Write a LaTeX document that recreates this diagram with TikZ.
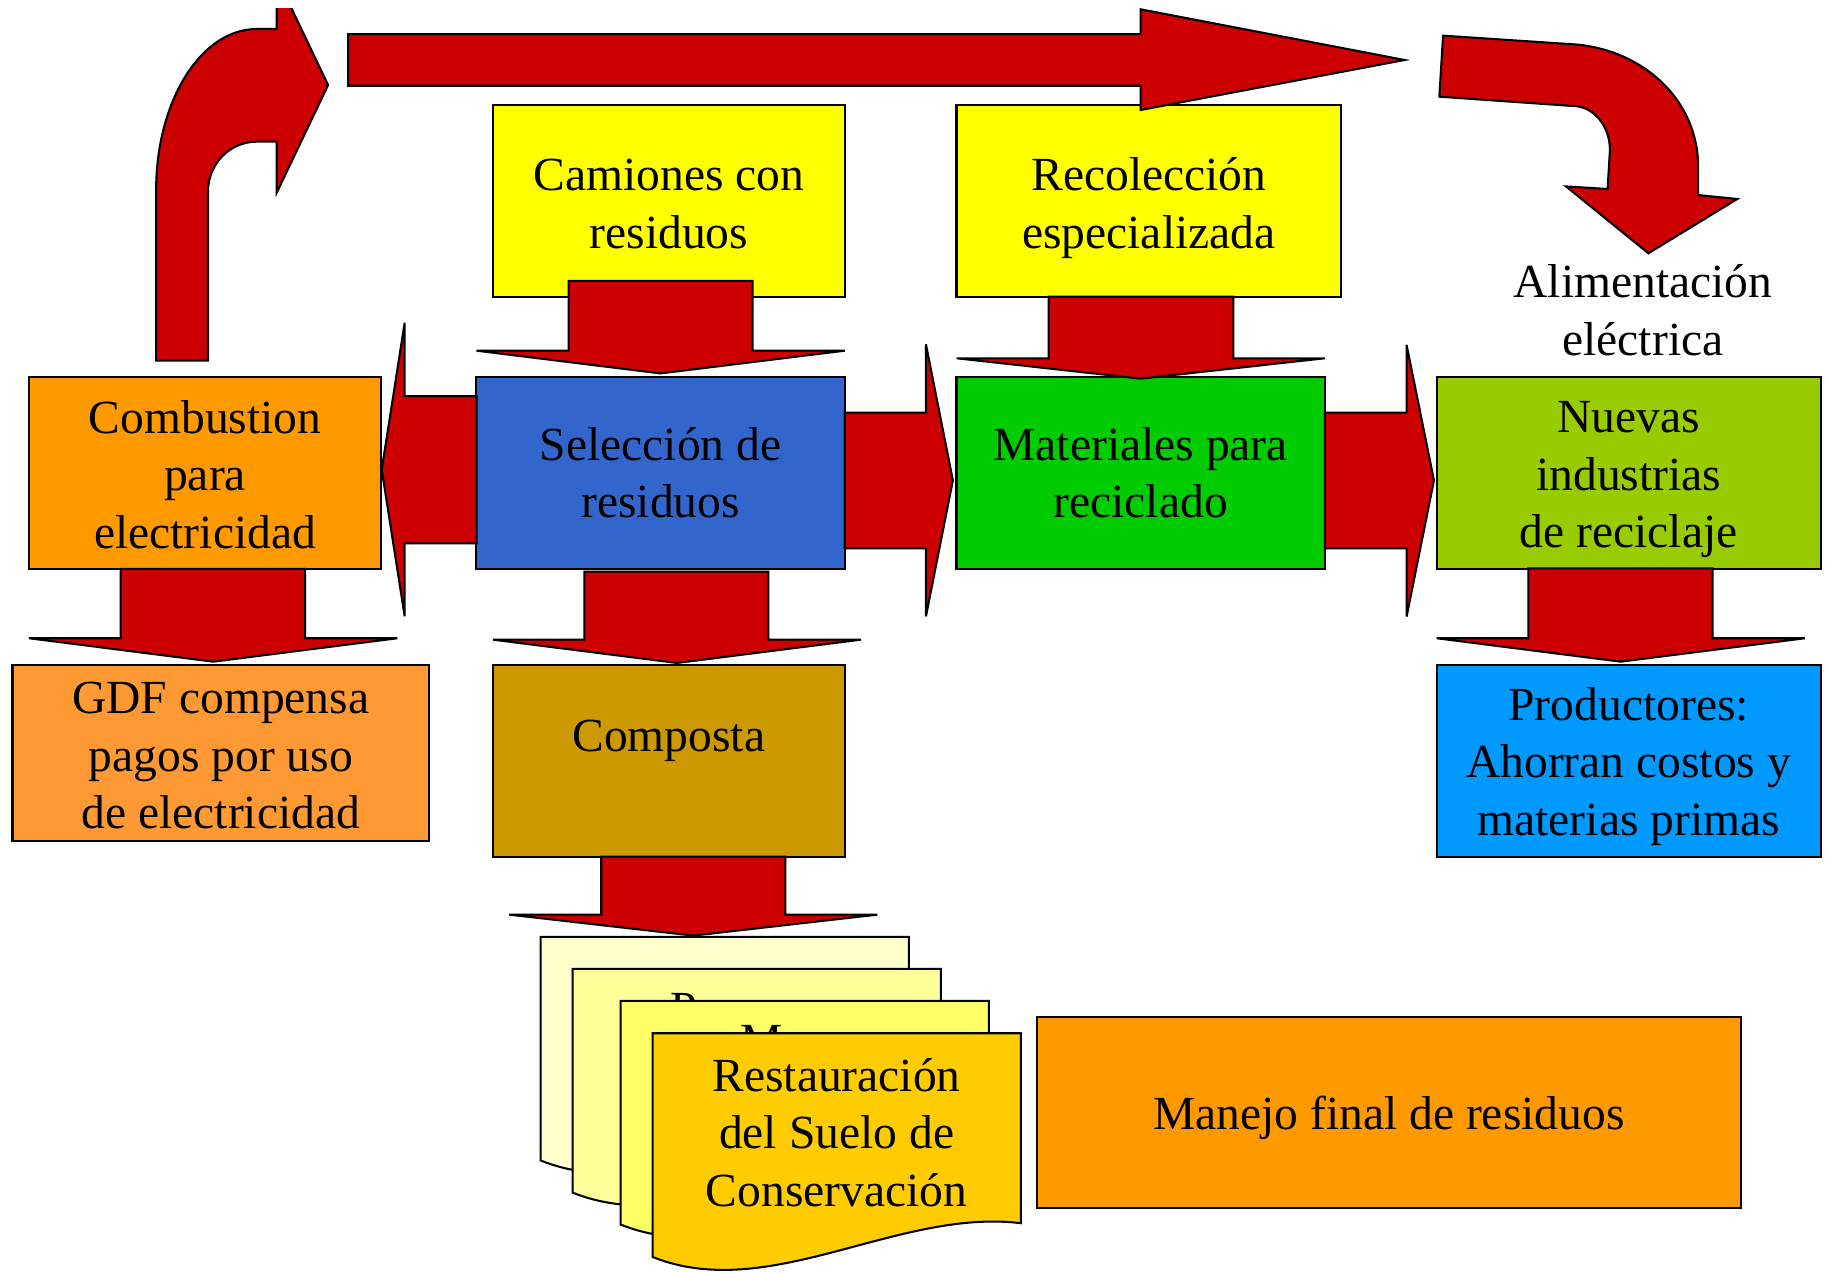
\documentclass[tikz,border=0pt]{standalone}
\usepackage{fontspec}
\setmainfont{Liberation Serif}
\usepackage{tikz}
\definecolor{flowRed}{HTML}{CC0000}
\definecolor{flowYellow}{HTML}{FFFF00}
\definecolor{flowOrange}{HTML}{FF9900}
\definecolor{flowBlue}{HTML}{3366CC}
\definecolor{flowGreen}{HTML}{00CC00}
\definecolor{flowLime}{HTML}{99CC00}
\definecolor{flowPeach}{HTML}{FF9933}
\definecolor{flowGold}{HTML}{CC9900}
\definecolor{flowSky}{HTML}{0099FF}
\definecolor{pageYellow1}{HTML}{FFFFCC}
\definecolor{pageYellow2}{HTML}{FFFF99}
\definecolor{pageYellow3}{HTML}{FFFF66}
\definecolor{pageYellow4}{HTML}{FFCC00}
% lifts the first text line of a box
\newcommand{\lift}[1]{\rule{0pt}{#1}}

\begin{document}
\begin{tikzpicture}[x=0.01cm, y=-0.01cm,
    flowbox/.style={draw=black, line width=0.5pt, align=center, inner sep=0pt,
      font=\fontsize{11.6pt}{14.1pt}\selectfont},
    plaintext/.style={align=center, inner sep=0pt, font=\fontsize{11.6pt}{14.1pt}\selectfont},
    blockarrow/.style={fill=flowRed, draw=black, line width=0.5pt},
    docpage/.style={draw=black, line width=0.5pt}]

    \useasboundingbox (0,0) rectangle (1568,1092);

    % Top row
    \node[flowbox, fill=flowYellow, minimum width=3.02cm, minimum height=1.646cm] (camiones) at (574,172.3) {\lift{9.1pt}Camiones con\\residuos};
    \node[flowbox, fill=flowYellow, minimum width=3.30cm, minimum height=1.646cm] (recoleccion) at (986,172.3) {\lift{11.8pt}Recolección\\especializada};
    \node[plaintext] (alimentacion) at (1410,266) {Alimentación\\eléctrica};

    % Middle row
    \node[flowbox, fill=flowOrange, minimum width=3.02cm, minimum height=1.645cm] (combustion) at (176,405.8) {\lift{8.9pt}Combustion\\para\\electricidad};
    \node[flowbox, fill=flowBlue, minimum width=3.16cm, minimum height=1.645cm] (seleccion) at (567,405.8) {Selección de\\residuos};
    \node[flowbox, fill=flowGreen, minimum width=3.16cm, minimum height=1.645cm] (materiales) at (979,405.8) {Materiales para\\reciclado};
    \node[flowbox, fill=flowLime, minimum width=3.295cm, minimum height=1.645cm] (nuevas) at (1397.8,405.8) {\lift{10.9pt}Nuevas\\industrias\\de reciclaje};

    % Lower row
    \node[flowbox, fill=flowPeach, minimum width=3.573cm, minimum height=1.508cm] (gdf) at (189.5,646.1) {\lift{9pt}GDF compensa\\pagos por uso\\de electricidad};
    \node[flowbox, fill=flowGold, minimum width=3.02cm, minimum height=1.645cm] (composta) at (574,653) {\lift{9.4pt}Composta\\\mbox{}};
    \node[flowbox, fill=flowSky, minimum width=3.295cm, minimum height=1.645cm] (productores) at (1397.8,653) {\lift{10.8pt}Productores:\\Ahorran costos y\\materias primas};
    \node[flowbox, fill=flowOrange, minimum width=6.04cm, minimum height=1.64cm] (manejo) at (1192,955) {\lift{10.8pt}Manejo final de residuos};

    % Stack of pages
    \filldraw[docpage, fill=pageYellow1, shift={(464,804)}] (0,0) -- (316,0) -- (316,163) .. controls (210,150) and (100,232) .. (0,192) -- cycle;
    \filldraw[docpage, fill=pageYellow2, shift={(491.5,831.6)}] (0,0) -- (316,0) -- (316,163) .. controls (210,150) and (100,232) .. (0,192) -- cycle;
    \node[plaintext, anchor=base] (hiddenP) at (586.5,879.7) {P};
    \filldraw[docpage, fill=pageYellow3, shift={(532.7,859)}] (0,0) -- (316,0) -- (316,163) .. controls (210,150) and (100,232) .. (0,192) -- cycle;
    \node[plaintext, anchor=base] (hiddenM) at (654,906.7) {M};
    \filldraw[docpage, fill=pageYellow4, shift={(560.1,886.8)}] (0,0) -- (316,0) -- (316,163) .. controls (210,150) and (100,232) .. (0,192) -- cycle;
    \node[plaintext] (restauracion) at (718,972) {Restauración\\del Suelo de\\Conservación};

    % Bent arrow up from combustion (cut at the top edge)
    \begin{scope}
      \clip (0,7.7) rectangle (1568,1092);
      \filldraw[blockarrow] (134,309.5) -- (134,163) .. controls (134,86.8) and (172.5,24.9) .. (220.3,24.9) -- (237.5,24.9) -- (237.5,-19.4) -- (281.6,73) -- (237.5,165.4) -- (237.5,121.6) -- (220.3,121.6) .. controls (197.1,121.6) and (178.5,140.8) .. (178.5,164.5) -- (178.5,309.5) -- cycle;
    \end{scope}

    % Long arrow along the top
    \filldraw[blockarrow] (298.8,29.3) -- (979,29.3) -- (979,8) -- (1205.5,51.5) -- (979,94.4) -- (979,73.6) -- (298.8,73.6) -- cycle;

    % Curved arrow down to the right
    \filldraw[blockarrow] (1238.5,30.6) -- (1350,38) .. controls (1409,42) and (1457.4,85) .. (1457.4,143) -- (1457.4,167.4) -- (1491,170.8) -- (1414.7,217.4) -- (1344,160) -- (1379.7,162.2) -- (1381.7,128.7) .. controls (1381.7,107.9) and (1367.5,91) .. (1350,91) -- (1235.3,83) -- cycle;

    % Down arrows
    \filldraw[blockarrow] (488,241) -- (488,301) -- (409,301) -- (567,320.5) -- (725,301) -- (646,301) -- (646,241) -- cycle;
    \filldraw[blockarrow] (900,254.6) -- (900,307.5) -- (821,307.5) -- (979,325) -- (1137,307.5) -- (1058.6,307.5) -- (1058.6,254.6) -- cycle;
    \filldraw[blockarrow] (103.6,488.3) -- (103.6,547.8) -- (24.9,547.8) -- (183.1,567.9) -- (341,547.8) -- (261.8,547.8) -- (261.8,488.3) -- cycle;
    \filldraw[blockarrow] (501.6,490.6) -- (501.6,549) -- (423,549) -- (581,569) -- (739,549) -- (659.4,549) -- (659.4,490.6) -- cycle;
    \filldraw[blockarrow] (1311.7,487.8) -- (1311.7,547.8) -- (1233,547.8) -- (1391,567.9) -- (1549,547.8) -- (1469.8,547.8) -- (1469.8,487.8) -- cycle;
    \filldraw[blockarrow] (516,735.2) -- (516,785) -- (437,785) -- (595,803) -- (753,785) -- (674,785) -- (674,735.2) -- cycle;

    % Side arrows
    \filldraw[blockarrow] (409,340) -- (347.3,340) -- (347.3,277) -- (327.6,403) -- (347.3,529) -- (347.3,466.3) -- (409,466.3) -- cycle;
    \filldraw[blockarrow] (725,354.2) -- (794.7,354.2) -- (794.7,295.5) -- (817.8,412.3) -- (794.7,529) -- (794.7,470.6) -- (725,470.6) -- cycle;
    \filldraw[blockarrow] (1137,354.2) -- (1207.2,354.2) -- (1207.2,296) -- (1230.7,412.3) -- (1207.2,529.2) -- (1207.2,470.6) -- (1137,470.6) -- cycle;
\end{tikzpicture}
\end{document}
